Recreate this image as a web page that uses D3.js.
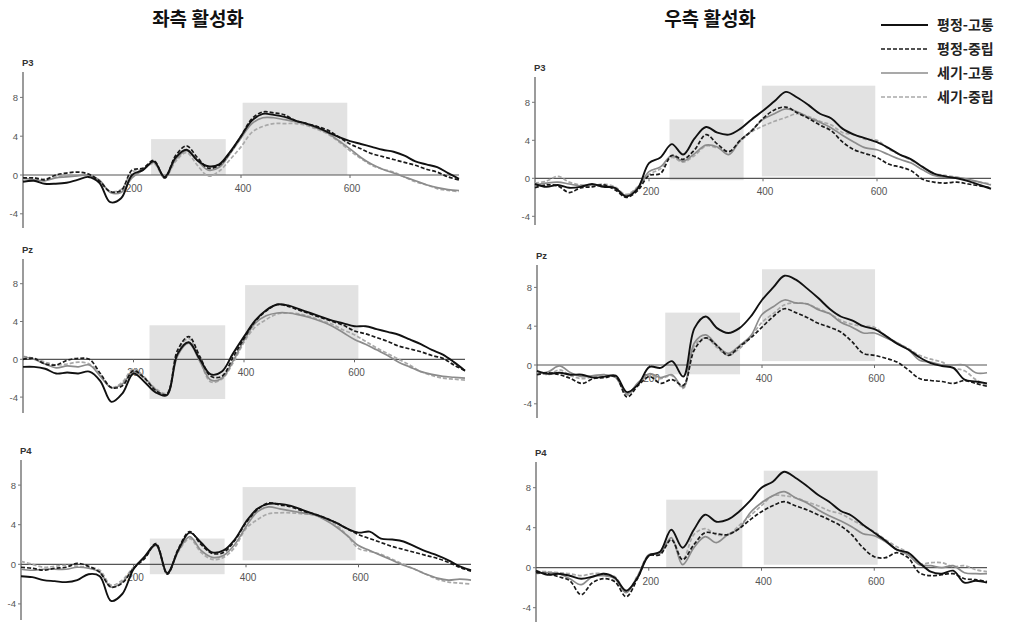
<!DOCTYPE html>
<html><head><meta charset="utf-8">
<script src="https://cdn.jsdelivr.net/npm/d3@7"></script>
<style>
html,body{margin:0;padding:0;background:#fff;}
svg{display:block;}
</style></head>
<body>
<svg id="chart" width="1009" height="625"></svg>
<script>
// ---- data ----
const timeMs = [0,20,40,60,80,100,120,140,160,180,200,220,240,260,280,300,320,340,360,380,400,420,440,460,480,500,520,540,560,580,600,620,640,660,680,700,720,740,760,780,800];
const columnTitles = ["좌측 활성화", "우측 활성화"];
const seriesNames = ["평정-고통", "평정-중립", "세기-고통", "세기-중립"];
const electrodes = ["P3", "Pz", "P4"];
const yTicks = [8, 4, 0, -4];
const xTicks = [200, 400, 600];

// left P3
const leftP3_calmPain    = [-0.7,-0.6,-0.9,-0.9,-0.8,-0.5,-0.2,-0.8,-2.8,-2.4,0.0,0.5,1.4,-0.2,1.8,2.6,1.5,0.9,1.1,2.4,4.0,5.6,6.3,6.2,6.0,5.6,5.3,4.9,4.4,3.9,3.5,3.2,2.9,2.6,2.4,2.0,1.4,1.1,0.8,0.2,-0.4];
const leftP3_calmNeutral = [-0.3,-0.3,-0.5,0.0,0.2,0.3,0.1,-0.6,-1.7,-1.6,0.5,0.7,1.5,-0.3,2.0,3.0,1.8,0.7,1.0,2.3,4.0,5.8,6.5,6.4,6.2,5.6,5.3,5.0,4.6,3.9,3.2,2.7,2.2,1.9,1.6,1.3,1.0,0.6,0.3,-0.2,-0.5];
const leftP3_intPain     = [-0.3,-0.5,-0.6,-0.3,-0.2,-0.1,0.0,-0.5,-1.8,-1.8,-0.3,0.5,1.3,-0.3,1.6,2.5,1.5,0.5,0.8,2.2,3.8,5.3,5.9,5.9,5.7,5.5,5.2,4.8,4.3,3.5,2.7,1.8,1.1,0.6,0.2,-0.2,-0.6,-1.0,-1.3,-1.5,-1.6];
const leftP3_intNeutral  = [-0.4,-0.3,-0.4,-0.2,-0.1,0.0,-0.1,-0.6,-1.7,-1.5,0.3,0.6,1.2,-0.3,1.4,2.3,1.0,-0.1,0.4,1.6,2.9,4.4,5.0,5.3,5.3,5.3,5.1,4.7,4.2,3.4,2.5,1.7,1.0,0.6,0.3,-0.2,-0.7,-1.0,-1.4,-1.6,-1.7];
// right P3
const rightP3_calmPain    = [-0.6,-0.9,-0.7,-1.0,-0.9,-0.6,-0.9,-1.0,-1.9,-1.1,1.6,2.2,3.6,2.5,4.2,5.4,4.8,4.6,5.2,6.2,7.1,8.1,9.1,8.5,7.7,6.8,6.3,5.2,4.6,4.2,3.8,3.2,2.5,2.0,1.2,0.5,0.2,0.0,-0.3,-0.7,-1.1];
const rightP3_calmNeutral = [-1.0,-0.7,-0.8,-1.5,-1.0,-0.9,-0.7,-1.2,-2.0,-1.3,0.3,0.5,2.4,2.0,3.0,4.6,3.6,2.8,4.0,5.0,6.3,7.2,7.5,6.9,6.3,5.6,5.0,3.8,3.0,2.6,2.2,1.5,1.2,0.8,-0.1,-0.4,-0.5,-0.4,-0.6,-0.8,-1.0];
const rightP3_intPain     = [-0.7,-0.5,-0.4,-0.6,-0.8,-0.7,-0.8,-1.0,-1.8,-1.0,0.7,1.2,2.4,1.8,2.6,3.5,3.3,2.5,4.0,5.0,6.2,6.8,7.3,7.0,6.4,5.9,5.3,4.5,3.8,3.2,3.0,2.5,2.0,1.6,0.9,0.3,0.1,0.1,-0.1,-0.4,-0.7];
const rightP3_intNeutral  = [-0.5,-0.3,0.2,-0.4,-0.7,-0.8,-0.6,-0.9,-1.7,-0.9,0.4,1.0,2.2,1.7,2.4,3.4,3.2,2.8,3.9,4.9,5.5,6.0,6.4,6.8,6.5,6.0,5.6,4.8,4.6,4.1,4.0,3.1,2.5,1.9,1.2,0.5,0.3,0.1,-0.2,-0.4,-0.6];
// left Pz
const leftPz_calmPain    = [-0.8,-0.8,-1.0,-1.5,-1.4,-1.5,-1.3,-2.3,-4.5,-3.6,-1.5,-2.4,-3.5,-3.8,0.6,1.8,0.0,-1.6,-1.3,0.6,2.4,4.1,5.2,5.8,5.7,5.3,4.9,4.5,4.1,3.8,3.5,3.5,3.2,2.9,2.6,2.1,1.6,1.0,0.5,-0.3,-1.2];
const leftPz_calmNeutral = [0.0,0.1,-0.5,-0.6,-0.1,0.1,0.0,-1.5,-3.0,-2.8,-1.2,-2.0,-3.3,-3.7,1.0,2.4,0.3,-1.8,-1.8,0.2,2.2,4.0,5.1,5.8,5.6,5.2,4.8,4.4,4.0,3.6,3.0,2.7,2.3,1.9,1.4,1.1,0.8,0.4,0.1,-0.6,-1.2];
const leftPz_intPain     = [0.3,0.0,-0.5,-0.9,-0.7,-0.8,-0.6,-1.8,-3.0,-2.6,-1.3,-2.0,-3.2,-3.8,0.4,1.7,-0.2,-2.2,-2.0,-0.2,2.0,3.8,4.6,4.9,4.9,4.7,4.4,4.0,3.5,2.8,2.1,1.6,1.0,0.4,-0.3,-0.8,-1.3,-1.6,-1.8,-1.9,-2.0];
const leftPz_intNeutral  = [0.3,0.1,-0.3,-0.6,-0.5,-0.3,-0.5,-1.6,-3.0,-2.4,-1.0,-1.9,-3.1,-3.6,0.8,2.2,-0.1,-2.4,-2.1,-0.4,1.8,3.4,4.2,4.8,4.9,4.8,4.5,4.1,3.7,3.1,2.6,1.9,1.2,0.6,0.0,-0.6,-1.3,-1.7,-2.0,-2.1,-2.2];
// right Pz
const rightPz_calmPain    = [-0.6,-0.9,-0.8,-1.0,-1.0,-1.3,-1.2,-1.1,-2.8,-2.0,-0.2,-0.3,0.4,-1.2,3.8,5.0,3.8,3.3,3.8,5.0,6.7,8.0,9.2,8.8,7.9,6.9,5.8,5.0,4.6,4.0,3.7,3.0,2.2,1.6,0.8,0.2,-0.1,-0.3,-1.5,-1.7,-1.9];
const rightPz_calmNeutral = [-1.0,-0.8,-1.0,-1.4,-1.9,-1.4,-1.3,-1.2,-3.3,-2.1,-1.2,-1.9,-1.5,-2.1,1.6,2.8,2.0,1.0,1.9,2.8,3.9,5.0,5.8,5.4,4.9,4.3,3.9,3.4,2.4,1.2,1.0,0.7,0.3,-0.5,-1.4,-1.6,-1.7,-1.9,-1.6,-1.9,-2.2];
const rightPz_intPain     = [-0.9,-0.7,-0.1,-0.8,-1.2,-1.1,-1.0,-1.3,-3.0,-1.8,-0.9,-1.3,-1.0,-2.3,2.3,3.1,2.0,1.2,2.0,3.0,5.2,6.0,6.7,6.4,6.3,5.7,5.3,4.4,3.9,3.3,3.3,2.8,2.3,1.6,0.5,0.3,0.0,0.0,0.0,-0.8,-0.8];
const rightPz_intNeutral  = [-0.7,-1.0,-0.5,-1.1,-1.4,-1.2,-1.1,-1.3,-3.1,-1.9,-1.1,-1.4,-1.1,-2.4,2.0,2.8,1.8,1.0,1.7,2.9,4.4,5.3,6.2,6.4,6.3,5.8,5.3,4.6,4.2,4.0,3.9,3.0,2.3,1.7,1.0,0.6,0.3,-0.3,-0.6,-1.5,-2.1];
// left P4
const leftP4_calmPain    = [-1.2,-1.3,-1.6,-1.7,-1.8,-1.6,-1.0,-1.2,-3.7,-3.0,-0.5,0.8,2.0,-0.9,1.5,3.2,2.2,1.2,1.4,2.5,4.3,5.6,6.1,6.1,5.9,5.5,5.1,4.7,4.2,3.6,3.2,3.3,2.6,2.5,2.3,1.8,1.3,0.9,0.4,-0.2,-0.6];
const leftP4_calmNeutral = [-0.3,-0.4,-0.6,-0.4,-0.3,0.1,-0.2,-0.8,-2.3,-1.9,-0.4,0.6,2.1,-1.0,1.6,3.3,2.0,1.1,1.2,2.4,4.2,5.5,6.2,6.0,5.8,5.4,5.1,4.7,4.2,3.6,3.0,2.6,2.2,1.8,1.5,1.2,0.9,0.6,0.2,-0.3,-0.7];
const leftP4_intPain     = [-0.5,-0.6,-0.5,-0.5,-0.5,-0.3,-0.4,-0.8,-2.3,-1.8,-0.4,0.7,1.9,-1.0,1.4,2.8,1.4,0.7,0.9,2.0,3.8,5.3,5.8,5.6,5.4,5.2,5.0,4.5,3.8,2.9,1.9,1.4,0.9,0.4,-0.1,-0.5,-1.0,-1.4,-1.6,-1.5,-1.6];
const leftP4_intNeutral  = [0.3,0.0,-0.3,-0.2,-0.1,-0.2,-0.3,-0.6,-2.1,-1.6,-0.3,0.7,2.0,-0.9,1.3,2.6,1.2,0.5,0.7,1.7,3.6,4.5,5.1,5.2,5.2,5.1,5.0,4.6,4.0,2.9,1.6,1.3,1.0,0.5,0.0,-0.5,-1.0,-1.5,-1.8,-1.9,-2.0];
// right P4
const rightP4_calmPain    = [-0.3,-0.7,-0.6,-0.8,-1.1,-0.9,-0.6,-1.0,-2.3,-1.0,1.2,1.6,3.8,2.0,3.8,5.3,4.6,4.8,5.6,6.7,8.0,8.6,9.6,9.0,8.2,7.3,6.6,5.7,5.2,4.3,3.5,2.7,1.8,1.5,0.5,-0.4,-0.6,-0.3,-1.5,-1.3,-1.5];
const rightP4_calmNeutral = [-0.5,-0.6,-0.9,-1.3,-2.7,-1.5,-1.1,-1.4,-2.9,-1.1,1.2,1.3,2.8,0.8,2.3,3.5,3.4,3.3,3.9,4.8,5.6,6.2,6.6,6.2,5.8,5.3,4.8,4.2,3.3,2.0,1.1,1.0,1.5,1.0,-0.5,-0.8,-0.7,-0.6,-1.1,-1.2,-1.4];
const rightP4_intPain     = [-0.6,-0.5,-0.6,-1.1,-1.7,-0.9,-0.8,-1.1,-2.5,-0.9,1.3,1.4,3.0,0.3,2.0,3.1,2.5,3.3,3.9,5.5,6.5,7.2,7.6,7.0,6.5,5.8,5.2,4.7,4.1,3.4,3.2,2.6,1.8,1.3,0.3,0.2,0.0,0.2,-0.5,-0.6,-0.6];
const rightP4_intNeutral  = [-0.4,-0.4,-0.5,-0.6,-0.8,-0.6,-0.6,-0.9,-2.4,-0.8,1.2,1.5,2.9,0.8,3.3,3.9,3.3,3.3,4.2,5.2,6.2,7.2,7.2,7.0,6.6,6.2,5.7,5.4,4.8,4.2,3.6,2.8,2.1,1.5,0.4,0.5,0.5,0.1,0.2,-0.2,-0.4];

// shaded analysis windows: [startMs, endMs, lowUV, highUV]
const leftP3_windows  = [[235,372,0,3.7],[403,595,0,7.45]];
const rightP3_windows = [[236,366,-0.2,6.2],[398,597,0.2,9.75]];
const leftPz_windows  = [[229,366,-4.2,3.6],[402,607,0,7.85]];
const rightPz_windows = [[228,361,-0.96,5.4],[400,601,0.4,9.87]];
const leftP4_windows  = [[229,362,-1.0,2.6],[394,595,0.4,7.8]];
const rightP4_windows = [[231,366,0,6.8],[404,606,0.3,9.7]];

// ---- layout ----
const panels = [
  {el:"P3", series:[leftP3_calmPain,leftP3_calmNeutral,leftP3_intPain,leftP3_intNeutral], win:leftP3_windows,
   x0:23, x1:459, zeroY:175, k:9.7, top:72, bottom:228},
  {el:"P3", series:[rightP3_calmPain,rightP3_calmNeutral,rightP3_intPain,rightP3_intNeutral], win:rightP3_windows,
   x0:535, x1:991, zeroY:178.3, k:9.5, top:77, bottom:225},
  {el:"Pz", series:[leftPz_calmPain,leftPz_calmNeutral,leftPz_intPain,leftPz_intNeutral], win:leftPz_windows,
   x0:23, x1:465, zeroY:359.3, k:9.45, top:259, bottom:413},
  {el:"Pz", series:[rightPz_calmPain,rightPz_calmNeutral,rightPz_intPain,rightPz_intNeutral], win:rightPz_windows,
   x0:537, x1:987, zeroY:365, k:9.7, top:265, bottom:418},
  {el:"P4", series:[leftP4_calmPain,leftP4_calmNeutral,leftP4_intPain,leftP4_intNeutral], win:leftP4_windows,
   x0:21, x1:471, zeroY:564.3, k:9.9, top:460, bottom:620},
  {el:"P4", series:[rightP4_calmPain,rightP4_calmNeutral,rightP4_intPain,rightP4_intNeutral], win:rightP4_windows,
   x0:536, x1:987, zeroY:567.7, k:10, top:462, bottom:622}
];
const styles = [
  {color:"#111", width:1.9, dash:null},
  {color:"#1a1a1a", width:1.7, dash:"4,2"},
  {color:"#8c8c8c", width:1.7, dash:null},
  {color:"#a9a9a9", width:1.7, dash:"4,2"}
];

const svg = d3.select("#chart");
const font = "Arial, 'Liberation Sans', sans-serif";
const krFont = "'Noto Sans CJK KR', 'Noto Sans', sans-serif";

// titles
svg.append("text").attr("x",198).attr("y",26).attr("text-anchor","middle")
  .attr("font-family",krFont).attr("font-weight","bold").attr("font-size",19).attr("fill","#111").text(columnTitles[0]);
svg.append("text").attr("x",710).attr("y",26).attr("text-anchor","middle")
  .attr("font-family",krFont).attr("font-weight","bold").attr("font-size",19).attr("fill","#111").text(columnTitles[1]);

// legend
const legY = [25, 49, 73, 97];
seriesNames.forEach((name,i)=>{
  const st = styles[i];
  svg.append("line").attr("x1",881).attr("x2",928).attr("y1",legY[i]).attr("y2",legY[i])
    .attr("stroke",st.color).attr("stroke-width",st.width).attr("stroke-dasharray",st.dash);
  svg.append("text").attr("x",937).attr("y",legY[i]+5).attr("font-family",krFont).attr("font-weight","bold")
    .attr("font-size",14).attr("fill","#222").text(name);
});

panels.forEach(p=>{
  const x = d3.scaleLinear().domain([0,800]).range([p.x0,p.x1]);
  const y = d3.scaleLinear().domain([-4,8]).range([p.zeroY+4*p.k, p.zeroY-8*p.k]);
  const g = svg.append("g");
  // shaded windows
  g.selectAll("rect.win").data(p.win).join("rect")
    .attr("x",d=>x(d[0])).attr("width",d=>x(d[1])-x(d[0]))
    .attr("y",d=>y(d[3])).attr("height",d=>y(d[2])-y(d[3]))
    .attr("fill","#e2e2e2");
  // y axis
  g.append("line").attr("x1",p.x0).attr("x2",p.x0).attr("y1",p.top).attr("y2",p.bottom)
    .attr("stroke","#7a7a7a").attr("stroke-width",1.5);
  yTicks.forEach(t=>{
    g.append("line").attr("x1",p.x0-3).attr("x2",p.x0).attr("y1",y(t)).attr("y2",y(t)).attr("stroke","#777");
    g.append("text").attr("x",p.x0-5).attr("y",y(t)+3.5).attr("text-anchor","end")
      .attr("font-family",font).attr("font-size",9.5).attr("fill","#555").text(t);
  });
  // zero line
  g.append("line").attr("x1",p.x0).attr("x2",p.x1).attr("y1",y(0)).attr("y2",y(0))
    .attr("stroke","#555").attr("stroke-width",1.2);
  // x ticks
  xTicks.forEach(t=>{
    g.append("line").attr("x1",x(t)).attr("x2",x(t)).attr("y1",y(0)).attr("y2",y(0)+3).attr("stroke","#666");
    g.append("text").attr("x",x(t)+2).attr("y",y(0)+17).attr("text-anchor","middle")
      .attr("font-family",font).attr("font-size",10).attr("fill","#555").text(t);
  });
  // electrode label
  g.append("text").attr("x",p.x0-1).attr("y",p.top-6).attr("font-family",font).attr("font-weight","bold")
    .attr("font-size",9.5).attr("fill","#333").text(p.el);
  // waveforms (draw gray first, black on top)
  const line = d3.line().x((d,i)=>x(timeMs[i])).y(d=>y(d)).curve(d3.curveCatmullRom.alpha(0.5));
  [3,2,1,0].forEach(si=>{
    const st = styles[si];
    g.append("path").attr("d",line(p.series[si])).attr("fill","none")
      .attr("stroke",st.color).attr("stroke-width",st.width).attr("stroke-dasharray",st.dash)
      .attr("stroke-linejoin","round");
  });
});
</script>
</body></html>
